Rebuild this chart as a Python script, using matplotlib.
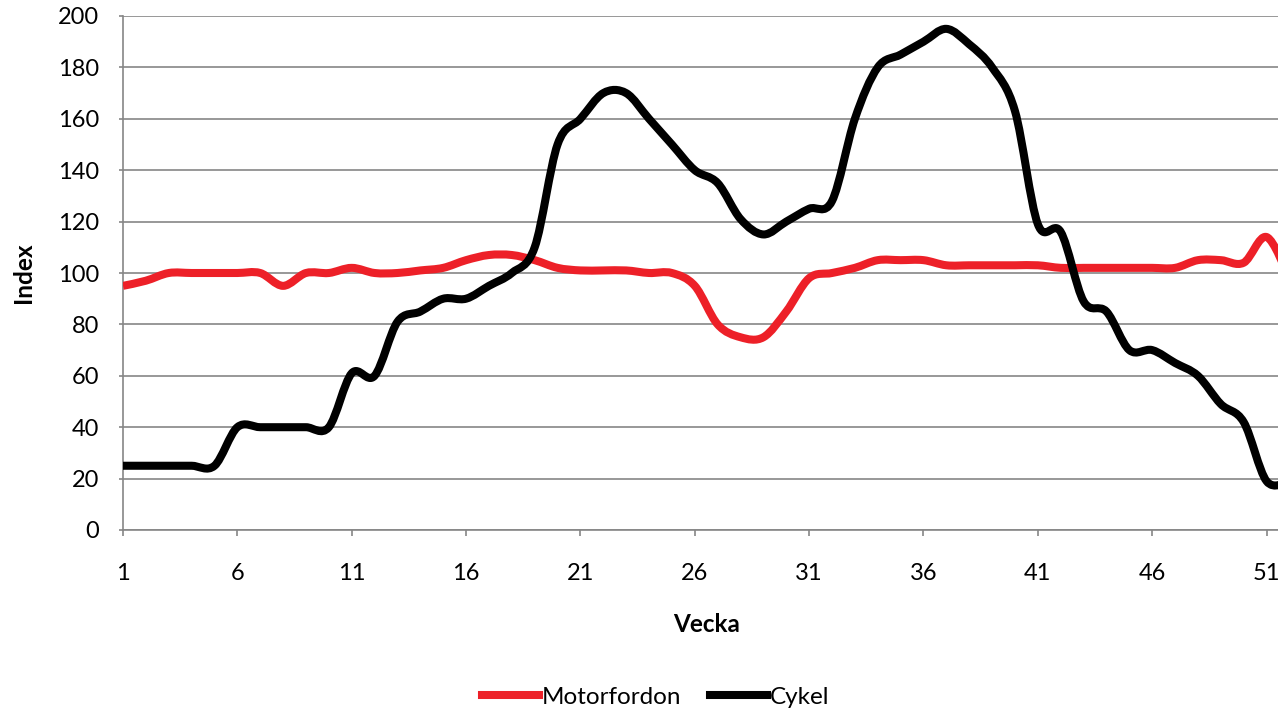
import numpy as np
import matplotlib
matplotlib.use("Agg")
import matplotlib.pyplot as plt
from matplotlib.path import Path
from matplotlib.patches import PathPatch
from matplotlib.lines import Line2D

plt.rcParams['font.family'] = ['Lato', 'DejaVu Sans']

# veckodata (index)
vecka = list(range(1, 53))
motorfordon = [95, 97, 100, 100, 100, 100, 100, 95, 100, 100,
               102, 100, 100, 101, 102, 105, 107, 107, 105, 102,
               101, 101, 101, 100, 100, 95, 80, 75, 75, 85,
               98, 100, 102, 105, 105, 105, 103, 103, 103, 103,
               103, 102, 102, 102, 102, 102, 102, 105, 105, 104,
               114, 98]
cykel = [25, 25, 25, 25, 25, 40, 40, 40, 40, 40,
         61, 60, 81, 85, 90, 90, 95, 100, 110, 150,
         160, 170, 170, 160, 150, 140, 135, 121, 115, 120,
         125, 128, 160, 180, 185, 190, 195, 189, 180, 163,
         119, 116, 89, 85, 70, 70, 65, 60, 49, 42,
         19, 19]

serier = [("Motorfordon", motorfordon, "#ED2028"), ("Cykel", cykel, "#000000")]
yticks = [0, 20, 40, 60, 80, 100, 120, 140, 160, 180, 200]
xticks = [1, 6, 11, 16, 21, 26, 31, 36, 41, 46, 51]


def utjamnad_bana(x, y):
    """Mjuk linje (Catmull-Rom som Bezier), som Excels utjämnade linje."""
    p = np.column_stack([x, y]).astype(float)
    n = len(p)
    verts = [p[0]]
    codes = [Path.MOVETO]
    for i in range(n - 1):
        p0 = p[i - 1] if i > 0 else p[i]
        p3 = p[i + 2] if i + 2 < n else p[i + 1]
        c1 = p[i] + (p[i + 1] - p0) / 6
        c2 = p[i + 1] - (p3 - p[i]) / 6
        verts += [c1, c2, p[i + 1]]
        codes += [Path.CURVE4] * 3
    return Path(verts, codes)


fig = plt.figure(figsize=(12.78, 7.11), dpi=100)
ax = fig.add_axes([123 / 1278, 181 / 711, 1155 / 1278, 514 / 711])

lw = 5.8
for namn, varden, farg in serier:
    patch = PathPatch(utjamnad_bana(vecka, varden), facecolor="none",
                      edgecolor=farg, lw=lw, joinstyle="round", capstyle="butt",
                      zorder=3)
    ax.add_patch(patch)

ax.set_xlim(1, 51.5)
ax.set_ylim(0, 200)
ax.set_yticks(yticks)
ax.set_xticks(xticks)
ax.grid(axis="y", color="#868686", lw=1.2)
ax.set_axisbelow(True)

for s in ["top", "right"]:
    ax.spines[s].set_visible(False)
for s in ["left", "bottom"]:
    ax.spines[s].set_color("#868686")
    ax.spines[s].set_linewidth(1.2)

ax.tick_params(axis="both", colors="#868686", labelcolor="black", labelsize=17,
               width=1.2)
ax.tick_params(axis="y", length=3, pad=14)
ax.tick_params(axis="x", length=4.5, pad=19)

ax.set_ylabel("Index", fontsize=17.5, fontweight="bold")
ax.yaxis.set_label_coords(-0.076, 0.5)
ax.set_xlabel("Vecka", fontsize=17.5, fontweight="bold")
ax.xaxis.set_label_coords(0.505, -0.161)

handtag = [Line2D([], [], color=farg, lw=lw) for _, _, farg in serier]
fig.legend(handtag, [n for n, _, _ in serier], loc="center",
           bbox_to_anchor=(0.513, 0.0197), ncol=2, frameon=False,
           fontsize=17.5, handlelength=2.35, handletextpad=0.12,
           columnspacing=1.15)

fig.savefig("out.png", dpi=100)
